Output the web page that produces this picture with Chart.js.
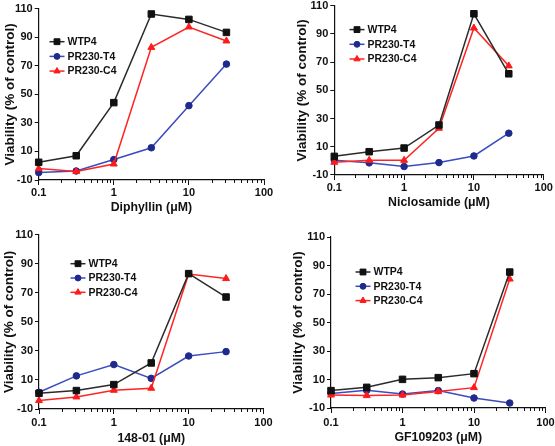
<!DOCTYPE html>
<html><head><meta charset="utf-8">
<script src="https://cdn.jsdelivr.net/npm/chart.js@4"></script>
<style>
html,body{margin:0;padding:0;background:#fff;width:555px;height:446px;overflow:hidden;position:relative;}
canvas{position:absolute;left:0;top:0;}
</style></head><body>
<canvas id="c1" width="560" height="460"></canvas>
<canvas id="c2" width="560" height="460"></canvas>
<canvas id="c3" width="560" height="460"></canvas>
<canvas id="c4" width="560" height="460"></canvas>
<script>
// ---------------- data ----------------
const doses = [0.1, 0.316, 1, 3.16, 10, 31.6];
const seriesNames = ['WTP4', 'PR230-T4', 'PR230-C4'];
const xTickValues = [0.1, 1, 10, 100];
const xTickLabels = ['0.1', '1', '10', '100'];
const yTickValues = [-10, 10, 30, 50, 70, 90, 110];
const yTitle = 'Viability (% of control)';
const drugTitles = ['Diphyllin (μM)', 'Niclosamide (μM)', '148-01 (μM)', 'GF109203 (μM)'];

const diphyllinWTP4 = [2.4, 7.0, 44.2, 106.3, 102.5, 93.4];
const diphyllinT4   = [-4.8, -3.7, 4.3, 12.6, 42.1, 71.2];
const diphyllinC4   = [-2.0, -4.0, 1.2, 82.9, 97.2, 87.4];

const niclosamideWTP4 = [3.2, 6.5, 9.1, 25.4, 104.2, 61.7];
const niclosamideT4   = [0.5, -1.4, -4.0, -1.2, 3.5, 19.6];
const niclosamideC4   = [-1.0, 0.4, 0.4, 23.1, 94.1, 67.3];

const c14801WTP4 = [0.8, 2.7, 6.8, 21.7, 83.2, 67.1];
const c14801T4   = [1.5, 12.8, 20.6, 11.1, 26.5, 29.5];
const c14801C4   = [-4.2, -1.7, 2.9, 4.3, 82.9, 79.8];

const gfWTP4 = [2.2, 4.5, 10.1, 11.3, 14.1, 85.4];
const gfT4   = [0.1, 2.4, -0.2, 2.2, -3.0, -6.5];
const gfC4   = [-0.9, -1.3, -0.9, 1.5, 4.3, 80.5];

const panelValues = [
  [diphyllinWTP4, diphyllinT4, diphyllinC4],
  [niclosamideWTP4, niclosamideT4, niclosamideC4],
  [c14801WTP4, c14801T4, c14801C4],
  [gfWTP4, gfT4, gfC4]
];

// ---------------- styling / layout ----------------
const W = 560, H = 460;
const FONT = '"Liberation Sans", Arial, Helvetica, sans-serif';
const seriesStyles = [
  {line: '#2a2a2a', point: '#111111', pointStyle: 'rect', radius: 4.6, order: 0},
  {line: '#3a4cc0', point: '#1f2b8c', pointStyle: 'circle', radius: 3.3, order: 2},
  {line: '#ff2424', point: '#ff1a1a', pointStyle: 'triangle', radius: 4.0, order: 1}
];
const geoms = [
  {L: 38.7, R: 264, T: 8.7, B: 180, yBoxLeft: 1.9, xBoxBottom: 215.2, xPad: 1.1, lg: {dx: 18.3, dy: 33, gap: 14.7}},
  {L: 334.3, R: 543.7, T: 3.3, B: 175, yBoxLeft: 293.9, xBoxBottom: 210.2, xPad: 1.7, lg: {dx: 22.7, dy: 24, gap: 14.7}},
  {L: 39, R: 263.5, T: 234.7, B: 409, yBoxLeft: 1.6, xBoxBottom: 445.5, xPad: 2.1, lg: {dx: 39, dy: 29, gap: 14.3}},
  {L: 331, R: 545.5, T: 237, B: 408, yBoxLeft: 290.6, xBoxBottom: 444.5, xPad: 3.1, lg: {dx: 32, dy: 35, gap: 14.3}}
];

function drawMarker(ctx, style, r, x, y) {
  ctx.beginPath();
  if (style === 'rect') {
    const s = Math.SQRT1_2 * r;
    ctx.rect(x - s, y - s, 2 * s, 2 * s);
  } else if (style === 'circle') {
    ctx.arc(x, y, r, 0, Math.PI * 2);
  } else {
    const a = -Math.PI / 2;
    for (let k = 0; k < 3; k++) {
      const ang = a + k * 2 * Math.PI / 3;
      const px = x + Math.cos(ang) * r, py = y + Math.sin(ang) * r;
      if (k === 0) ctx.moveTo(px, py); else ctx.lineTo(px, py);
    }
    ctx.closePath();
  }
  ctx.fill();
  ctx.stroke();
}

const insideLegend = {
  id: 'insideLegend',
  afterDatasetsDraw(chart, args, opts) {
    const {ctx, chartArea} = chart;
    chart.data.datasets.forEach((ds, i) => {
      const cx = chartArea.left + opts.dx;
      const cy = chartArea.top + opts.dy + i * opts.gap;
      ctx.save();
      ctx.strokeStyle = ds.borderColor;
      ctx.lineWidth = ds.borderWidth;
      ctx.beginPath();
      ctx.moveTo(cx - 7.5, cy); ctx.lineTo(cx + 7.5, cy);
      ctx.stroke();
      ctx.fillStyle = ds.pointBackgroundColor;
      ctx.strokeStyle = ds.pointBorderColor;
      ctx.lineWidth = 1;
      drawMarker(ctx, ds.pointStyle, ds.pointRadius * 0.9, cx, cy);
      ctx.fillStyle = '#111';
      ctx.font = 'bold 10.5px ' + FONT;
      ctx.textBaseline = 'middle';
      ctx.textAlign = 'left';
      ctx.fillText(ds.label, cx + 10.5, cy + 0.5);
      ctx.restore();
    });
  }
};

const minorTicks = {
  id: 'minorTicks',
  afterDraw(chart) {
    const s = chart.scales.x, ctx = chart.ctx;
    ctx.save();
    ctx.strokeStyle = '#111';
    ctx.lineWidth = 1;
    ctx.beginPath();
    for (let d = 0; d < xTickValues.length - 1; d++) {
      for (let k = 2; k <= 9; k++) {
        const px = Math.round(s.getPixelForValue(xTickValues[d] * k)) + 0.5;
        ctx.moveTo(px, s.top);
        ctx.lineTo(px, s.top + 3);
      }
    }
    ctx.stroke();
    ctx.restore();
  }
};

function zeroPad(s) { s.paddingLeft = 0; s.paddingRight = 0; s.paddingTop = 0; s.paddingBottom = 0; }

function makeChart(id, p) {
  const g = geoms[p];
  const datasets = seriesNames.map((name, i) => ({
    label: name,
    data: doses.map((d, j) => ({x: d, y: panelValues[p][i][j]})),
    borderColor: seriesStyles[i].line,
    borderWidth: 1.5,
    pointStyle: seriesStyles[i].pointStyle,
    pointRadius: seriesStyles[i].radius,
    pointBackgroundColor: seriesStyles[i].point,
    pointBorderColor: seriesStyles[i].point,
    pointBorderWidth: 1,
    order: seriesStyles[i].order,
    tension: 0,
    clip: false
  }));
  return new Chart(document.getElementById(id), {
    type: 'line',
    data: {datasets},
    plugins: [insideLegend, minorTicks],
    options: {
      responsive: false,
      animation: false,
      devicePixelRatio: 1,
      events: [],
      layout: {padding: {left: g.yBoxLeft, top: g.T, right: W - g.R, bottom: H - g.xBoxBottom}},
      plugins: {
        legend: {display: false},
        tooltip: {enabled: false},
        insideLegend: g.lg
      },
      scales: {
        x: {
          type: 'logarithmic', position: 'bottom', min: 0.1, max: 100,
          afterBuildTicks: s => { s.ticks = xTickValues.map(v => ({value: v, major: true})); },
          afterFit: s => { s.height = g.xBoxBottom - g.B; zeroPad(s); },
          ticks: {
            callback: (v, i) => xTickLabels[i],
            autoSkip: false, maxRotation: 0, padding: g.xPad,
            color: '#111', font: {family: FONT, size: 11, weight: 'bold'}
          },
          grid: {drawOnChartArea: false, drawTicks: true, tickLength: 5, tickColor: '#111', tickWidth: 1},
          border: {display: true, color: '#111', width: 1.2},
          title: {display: true, text: drugTitles[p], color: '#111', padding: {top: 0, bottom: 0},
                  font: {family: FONT, size: 12.3, weight: 'bold'}}
        },
        y: {
          type: 'linear', position: 'left', min: -10, max: 110,
          afterBuildTicks: s => { s.ticks = yTickValues.map(v => ({value: v})); },
          afterFit: s => { s.width = g.L - g.yBoxLeft; zeroPad(s); },
          ticks: {
            callback: v => String(v),
            autoSkip: false, padding: 2,
            color: '#111', font: {family: FONT, size: 11, weight: 'bold'}
          },
          grid: {drawOnChartArea: false, drawTicks: true, tickLength: 4, tickColor: '#111', tickWidth: 1},
          border: {display: true, color: '#111', width: 1.2},
          title: {display: true, text: yTitle, color: '#111', padding: {top: 0, bottom: 0},
                  font: {family: FONT, size: 13.5, weight: 'bold'}}
        }
      }
    }
  });
}

makeChart('c1', 0);
makeChart('c2', 1);
makeChart('c3', 2);
makeChart('c4', 3);
</script>
</body></html>
